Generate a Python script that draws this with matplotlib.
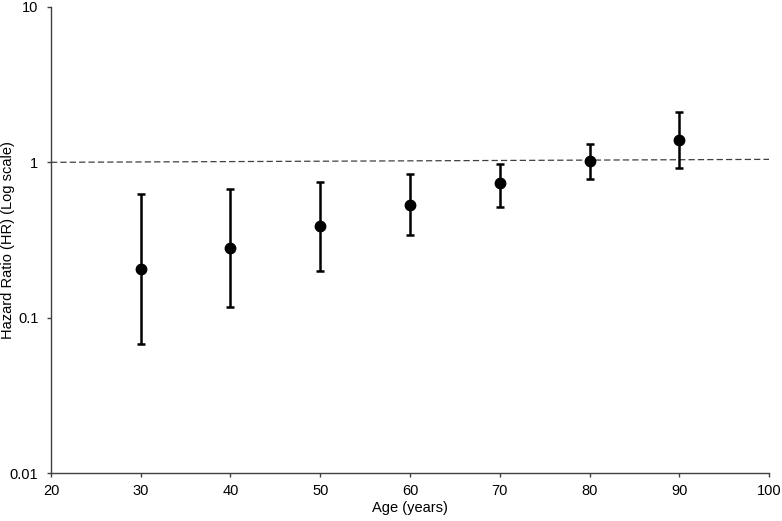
import numpy as np
import matplotlib.pyplot as plt

plt.rcParams['font.family'] = ['Liberation Sans', 'DejaVu Sans']

# data
age = [30, 40, 50, 60, 70, 80, 90]
hr = [0.205, 0.281, 0.387, 0.533, 0.739, 1.02, 1.40]
hr_low = [0.0673, 0.1165, 0.200, 0.342, 0.518, 0.780, 0.923]
hr_high = [0.622, 0.676, 0.750, 0.837, 0.975, 1.32, 2.10]
ref_x = [20, 100]
ref_y = [1.0, 1.045]

fig = plt.figure(figsize=(7.82, 5.21), dpi=100)
ax = fig.add_axes([0.0652, 0.0921, 0.9182, 0.8945])

hr = np.array(hr)
yerr = [hr - np.array(hr_low), np.array(hr_high) - hr]

ax.plot(ref_x, ref_y, linestyle=(0, (5, 2.5)), color='#404040', linewidth=0.9, zorder=1)
ax.errorbar(age, hr, yerr=yerr, fmt='o', color='black', markersize=7.5,
            elinewidth=1.8, capsize=3, capthick=1.8, zorder=3)

ax.set_yscale('log')
ax.set_xlim(20, 100)
ax.set_ylim(0.01, 10)
ax.set_xticks(range(20, 101, 10))
ax.set_yticks([0.01, 0.1, 1, 10])
ax.set_yticklabels(['0.01', '0.1', '1', '10'])
ax.yaxis.set_minor_locator(plt.NullLocator())

for s in ['top', 'right']:
    ax.spines[s].set_visible(False)
for s in ['left', 'bottom']:
    ax.spines[s].set_color('#404040')
    ax.spines[s].set_linewidth(1.0)
ax.tick_params(axis='both', direction='out', length=3, width=1, color='#404040',
               labelsize=10.5, labelcolor='black')
ax.tick_params(axis='y', pad=6)
ax.tick_params(axis='x', pad=5)

ax.set_xlabel('Age (years)', fontsize=10.5, labelpad=2)
ax.set_ylabel('Hazard Ratio (HR) (Log scale)', fontsize=10.5)
ax.yaxis.set_label_coords(-0.050, 0.5)

fig.savefig('out.png', dpi=100)
